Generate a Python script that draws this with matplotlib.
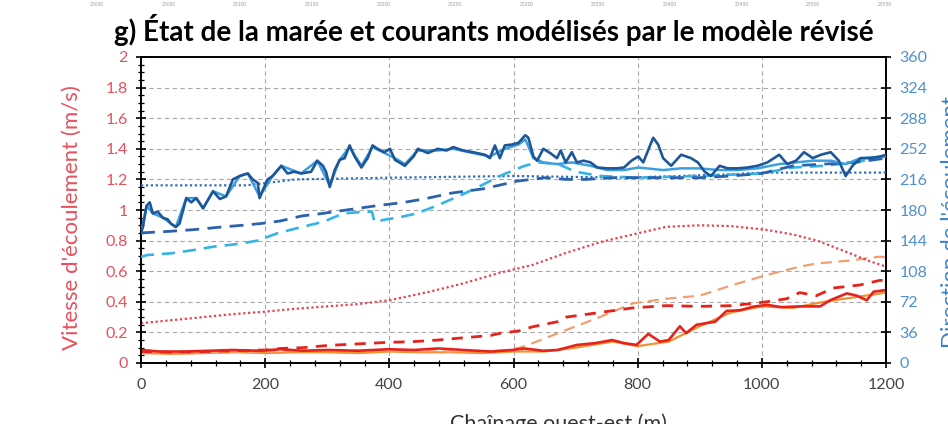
import matplotlib
matplotlib.use("Agg")
import matplotlib.pyplot as plt
from matplotlib.ticker import MultipleLocator

plt.rcParams['font.family'] = ['Lato', 'DejaVu Sans']

# ---- Chaînage (m) and current direction (degrees) ----
dir_model_x = [0, 3, 9, 14, 19, 27, 35, 43, 48, 56, 62, 73, 81, 89, 100, 116, 127, 137, 148, 159,
               172, 180, 188, 191, 196, 204, 212, 226, 236, 247, 258, 274, 284, 293, 298, 304, 312,
               320, 328, 336, 344, 355, 365, 373, 381, 392, 401, 409, 425, 439, 446, 462, 478, 492,
               503, 519, 535, 554, 562, 570, 578, 586, 597, 608, 619, 624, 632, 638, 648, 659, 670,
               676, 684, 694, 702, 713, 724, 735, 751, 767, 778, 790, 801, 809, 825, 833, 841, 854,
               870, 886, 897, 908, 918, 932, 945, 961, 977, 993, 1009, 1028, 1041, 1055, 1068, 1082,
               1095, 1111, 1124, 1135, 1146, 1159, 1175, 1191, 1200]
dir_model = [153, 160, 185, 189, 176, 178, 171, 169, 164, 160, 164, 194, 189, 194, 182, 202, 193, 196,
             216, 220, 223, 216, 212, 194, 203, 216, 220, 232, 223, 225, 223, 225, 238, 232, 225, 207,
             227, 239, 241, 256, 243, 230, 241, 256, 252, 248, 252, 239, 232, 243, 252, 247, 252, 250,
             254, 250, 248, 245, 241, 256, 241, 256, 257, 259, 268, 265, 243, 238, 252, 247, 241, 250,
             236, 248, 236, 238, 236, 230, 229, 229, 230, 238, 243, 236, 265, 257, 241, 232, 245, 241,
             236, 225, 220, 232, 229, 229, 230, 232, 236, 245, 234, 238, 248, 241, 245, 248, 238, 220,
             232, 241, 241, 243, 245]

dir_obs_x = [0, 9, 19, 35, 56, 73, 89, 100, 116, 137, 159, 172, 191, 212, 226, 258, 284, 304, 320,
             336, 355, 373, 409, 425, 446, 478, 503, 535, 562, 586, 608, 619, 632, 648, 670, 694,
             724, 751, 778, 801, 841, 870, 897, 932, 961, 993, 1028, 1055, 1082, 1111, 1135, 1159, 1200]
dir_obs = [153, 185, 176, 171, 160, 194, 194, 182, 202, 196, 220, 223, 196, 220, 232, 223, 238, 209,
           239, 254, 232, 254, 241, 234, 250, 250, 252, 247, 243, 252, 257, 263, 241, 236, 234, 236,
           232, 227, 227, 230, 227, 229, 229, 227, 227, 229, 234, 236, 238, 238, 234, 241, 243]

dir_flood_x = [0, 48, 87, 130, 163, 192, 224, 259, 293, 331, 379, 424, 456, 501, 552, 606, 652, 684,
               717, 760, 800, 850, 900, 950, 1000, 1050, 1100, 1150, 1200]
dir_flood = [153, 155, 157, 160, 162, 164, 167, 173, 176, 180, 185, 189, 193, 200, 205, 214, 218, 216,
             216, 218, 218, 218, 218, 220, 223, 232, 234, 236, 241]

dir_ebb_x = [0, 10, 48, 86, 118, 156, 188, 221, 259, 293, 326, 360, 372, 376, 395, 414, 444, 476,
             517, 543, 581, 618, 640, 672, 700, 740, 800, 900, 1000, 1050, 1100, 1150, 1200]
dir_ebb = [125, 127, 129, 133, 137, 140, 144, 153, 160, 166, 176, 178, 178, 166, 169, 171, 176, 185,
           198, 207, 221, 232, 236, 234, 225, 220, 218, 220, 223, 230, 232, 236, 243]

dir_mean_x = [0, 170, 250, 400, 600, 780, 950, 1000, 1100, 1200]
dir_mean = [209, 209, 216, 218, 220, 218, 222, 224, 224, 224]

# ---- Flow speed (m/s) ----
spd_model_x = [0, 30, 71, 110, 148, 190, 225, 260, 302, 350, 398, 440, 478, 520, 563, 598, 617, 648,
               671, 702, 732, 759, 778, 798, 817, 836, 850, 868, 878, 895, 925, 943, 965, 986, 1008,
               1032, 1061, 1094, 1110, 1137, 1153, 1169, 1180, 1200]
spd_model = [0.085, 0.075, 0.075, 0.08, 0.085, 0.08, 0.09, 0.08, 0.085, 0.08, 0.09, 0.085, 0.095,
             0.085, 0.075, 0.085, 0.095, 0.08, 0.085, 0.118, 0.13, 0.15, 0.13, 0.118, 0.19, 0.14,
             0.15, 0.24, 0.195, 0.25, 0.27, 0.34, 0.345, 0.368, 0.38, 0.365, 0.37, 0.37, 0.41, 0.455,
             0.44, 0.41, 0.466, 0.477]

spd_obs_x = [0, 50, 100, 150, 200, 250, 300, 350, 400, 450, 500, 550, 600, 650, 700, 760, 800, 850,
             900, 950, 1000, 1050, 1100, 1150, 1200]
spd_obs = [0.065, 0.06, 0.065, 0.07, 0.065, 0.07, 0.07, 0.065, 0.075, 0.07, 0.07, 0.065, 0.075,
           0.075, 0.1, 0.14, 0.11, 0.14, 0.24, 0.33, 0.37, 0.36, 0.4, 0.43, 0.46]

spd_flood_x = [0, 50, 100, 150, 200, 225, 260, 302, 350, 398, 440, 478, 520, 563, 578, 609, 631, 671,
               685, 739, 792, 846, 900, 953, 1008, 1040, 1061, 1088, 1115, 1158, 1190, 1200]
spd_flood = [0.075, 0.07, 0.075, 0.08, 0.085, 0.095, 0.1, 0.115, 0.125, 0.135, 0.14, 0.15, 0.165,
             0.18, 0.194, 0.21, 0.237, 0.27, 0.30, 0.33, 0.36, 0.375, 0.37, 0.375, 0.40, 0.42, 0.46,
             0.44, 0.49, 0.51, 0.54, 0.54]

spd_ebb_x = [0, 100, 200, 300, 400, 500, 580, 610, 631, 685, 739, 792, 846, 900, 953, 1008, 1061,
             1088, 1142, 1190, 1200]
spd_ebb = [0.07, 0.07, 0.075, 0.08, 0.08, 0.075, 0.08, 0.1, 0.13, 0.216, 0.30, 0.39, 0.42, 0.44,
           0.51, 0.575, 0.63, 0.65, 0.67, 0.695, 0.69]

spd_mean_x = [0, 50, 100, 150, 198, 250, 300, 350, 400, 465, 519, 578, 630, 685, 740, 792, 846, 900,
              950, 1008, 1050, 1089, 1140, 1170, 1200]
spd_mean = [0.26, 0.28, 0.30, 0.32, 0.335, 0.355, 0.37, 0.385, 0.41, 0.466, 0.52, 0.59, 0.64, 0.72,
            0.79, 0.84, 0.89, 0.90, 0.895, 0.87, 0.84, 0.80, 0.72, 0.67, 0.63]

x_ticks = [0, 200, 400, 600, 800, 1000, 1200]
speed_ticks = [0, 0.2, 0.4, 0.6, 0.8, 1.0, 1.2, 1.4, 1.6, 1.8, 2.0]
speed_labels = ['0', '0.2', '0.4', '0.6', '0.8', '1', '1.2', '1.4', '1.6', '1.8', '2']
dir_ticks = [0, 36, 72, 108, 144, 180, 216, 252, 288, 324, 360]
top_strip_labels = ['25000', '25050', '25100', '25150', '25200', '25250', '25300', '25350',
                    '25400', '25450', '25500', '25550']

RED_TXT = '#e8505c'
BLUE_TXT = '#4f8fd0'

fig = plt.figure(figsize=(9.48, 4.24), dpi=100)
ax = fig.add_axes([141 / 948, 61 / 424, 745 / 948, 306 / 424])
ax2 = ax.twinx()

# grid
grid_kw = dict(color='#a8a8a8', lw=0.8, ls=(0, (4, 3)))
ax.set_axisbelow(True)
ax.grid(True, which='major', **grid_kw)

# speed series (left axis)
ax.plot(spd_obs_x, spd_obs, color='#f39030', lw=1.6, zorder=3)
ax.plot(spd_model_x, spd_model, color='#e5231c', lw=1.9, zorder=4)
ax.plot(spd_ebb_x, spd_ebb, color='#f0a070', lw=1.6, ls=(0, (5, 3)), zorder=3)
ax.plot(spd_flood_x, spd_flood, color='#e5231c', lw=2.0, ls=(0, (4, 3)), zorder=3)
ax.plot(spd_mean_x, spd_mean, color='#e8404f', lw=1.6, ls=(0, (1, 1.2)), zorder=3)

# direction series (right axis)
ax2.plot(dir_mean_x, dir_mean, color='#2e6dbb', lw=1.6, ls=(0, (1, 1.2)), zorder=3)
ax2.plot(dir_ebb_x, dir_ebb, color='#34b4e6', lw=1.9, ls=(0, (5, 3)), zorder=3)
ax2.plot(dir_flood_x, dir_flood, color='#2a62ad', lw=2.0, ls=(0, (5, 3)), zorder=3)
ax2.plot(dir_obs_x, dir_obs, color='#3d9fe0', lw=1.8, zorder=4)
ax2.plot(dir_model_x, dir_model, color='#1d5799', lw=1.9, zorder=5)

ax.set_xlim(0, 1200)
ax.set_ylim(0, 2)
ax2.set_ylim(0, 360)

ax.set_xticks(x_ticks)
ax.xaxis.set_minor_locator(MultipleLocator(40))
ax.set_yticks(speed_ticks)
ax.set_yticklabels(speed_labels)
ax.yaxis.set_minor_locator(MultipleLocator(0.05))
ax2.set_yticks(dir_ticks)

for a in (ax, ax2):
    for s in a.spines.values():
        s.set_color('black')
        s.set_linewidth(1.2)

ax.tick_params(axis='both', which='major', direction='inout', length=7, width=1.2,
               color='black', labelsize=11.5)
ax.tick_params(axis='both', which='minor', direction='inout', length=4, width=0.9, color='black')
ax.tick_params(axis='y', labelcolor=RED_TXT, pad=6)
ax.tick_params(axis='x', labelcolor='#444444', pad=7)
ax2.tick_params(axis='y', which='major', direction='inout', length=7, width=1.2,
                color='black', labelcolor=BLUE_TXT, labelsize=11.5, pad=6)

ax.set_ylabel("Vitesse d'écoulement (m/s)", color=RED_TXT, fontsize=16)
ax.yaxis.set_label_coords(-0.080, 0.474)
ax2.set_ylabel("Direction de l'écoulement", color='#3b80c8', fontsize=16)
ax2.yaxis.set_label_coords(1.074, 0.46)
ax.set_xlabel('Chaînage ouest-est (m)', color='#333333', fontsize=15.5)
ax.xaxis.set_label_coords(0.56, -0.165)

fig.text(0.521, 0.929, 'g) État de la marée et courants modélisés par le modèle révisé',
         ha='center', va='center', fontsize=20, fontweight='bold', color='black')

for i, lab in enumerate(top_strip_labels):
    fig.text((97 + i * 71.6) / 948, 0.99, lab, ha='center', va='center',
             fontsize=3.5, color='#9a9a9a')

fig.savefig('out.png', dpi=100)
